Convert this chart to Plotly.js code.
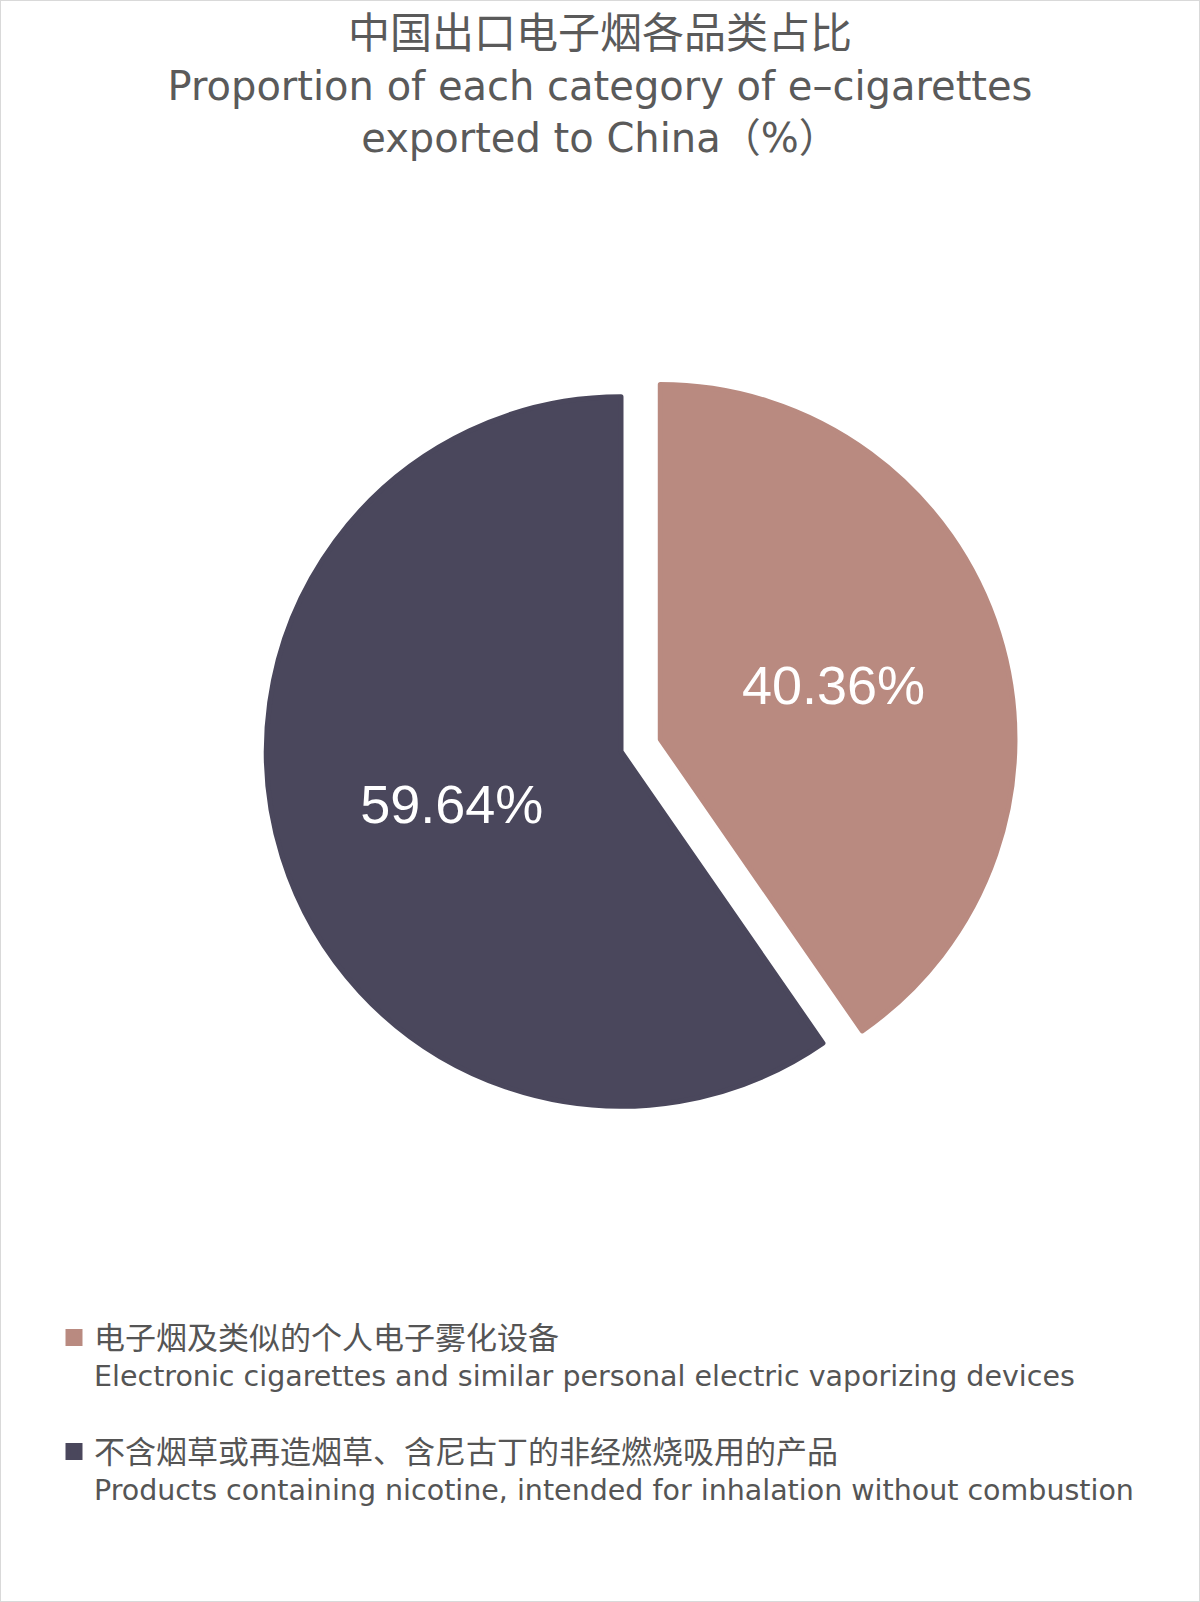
<!DOCTYPE html>
<html>
<head>
<meta charset="utf-8">
<script src="https://cdn.plot.ly/plotly-3.0.1.min.js"></script>
<style>
  html, body { margin: 0; padding: 0; background: #ffffff; }
  #chart { width: 1200px; height: 1602px; }
</style>
</head>
<body>
<div id="chart"></div>
<script>
const titleCN = "中国出口电子烟各品类占比";
const titleEN = ["Proportion of each category of e–cigarettes", "exported to China（%）"];
const categoriesCN = ["电子烟及类似的个人电子雾化设备", "不含烟草或再造烟草、含尼古丁的非经燃烧吸用的产品"];
const categoriesEN = ["Electronic cigarettes and similar personal electric vaporizing devices", "Products containing nicotine, intended for inhalation without combustion"];
const shares = [40.36, 59.64];
const sliceColors = ["#B98A80", "#4A475C"];

const labels = categoriesCN.map((cn, i) =>
  '<span style="font-size:31px">' + cn + '</span><br>' + categoriesEN[i] + '<br>\u00a0');

const trace = {
  type: "pie",
  values: shares,
  labels: labels,
  sort: false,
  direction: "clockwise",
  rotation: 0,
  pull: [0.116, 0],
  marker: { colors: sliceColors, line: { width: 5, color: sliceColors } },
  texttemplate: "%{value:.2f}%",
  textposition: "inside",
  insidetextorientation: "horizontal",
  textfont: { family: "Liberation Sans, Arial, sans-serif", size: 54, color: "#ffffff" },
  hoverinfo: "label+percent",
  domain: { x: [0.1425, 0.8925], y: [0.2838, 0.7780] }
};

const layout = {
  width: 1200,
  height: 1602,
  margin: { l: 0, r: 0, t: 0, b: 0 },
  paper_bgcolor: "#ffffff",
  plot_bgcolor: "#ffffff",
  title: {
    text: '<span style="font-size:42px">' + titleCN + '</span><br>' + titleEN.join("<br>"),
    font: { family: "DejaVu Sans, Noto Sans CJK SC, sans-serif", size: 40, color: "#5a5a5a" },
    x: 0.5,
    xanchor: "center",
    xref: "paper",
    y: 0.97,
    yanchor: "top",
    yref: "container"
  },
  showlegend: true,
  legend: {
    x: 0.045,
    xanchor: "left",
    y: 0.1808,
    yanchor: "top",
    valign: "top",
    orientation: "v",
    font: { family: "DejaVu Sans, Noto Sans CJK SC, sans-serif", size: 28.5, color: "#555555" },
    bgcolor: "rgba(0,0,0,0)"
  },
  shapes: [
    { type: "rect", xref: "paper", yref: "paper", x0: 0, x1: 1, y0: 0, y1: 1,
      line: { color: "#d9d9d9", width: 2 }, fillcolor: "rgba(0,0,0,0)" }
  ]
};

Plotly.newPlot("chart", [trace], layout, { displayModeBar: false, staticPlot: true });
</script>
</body>
</html>
